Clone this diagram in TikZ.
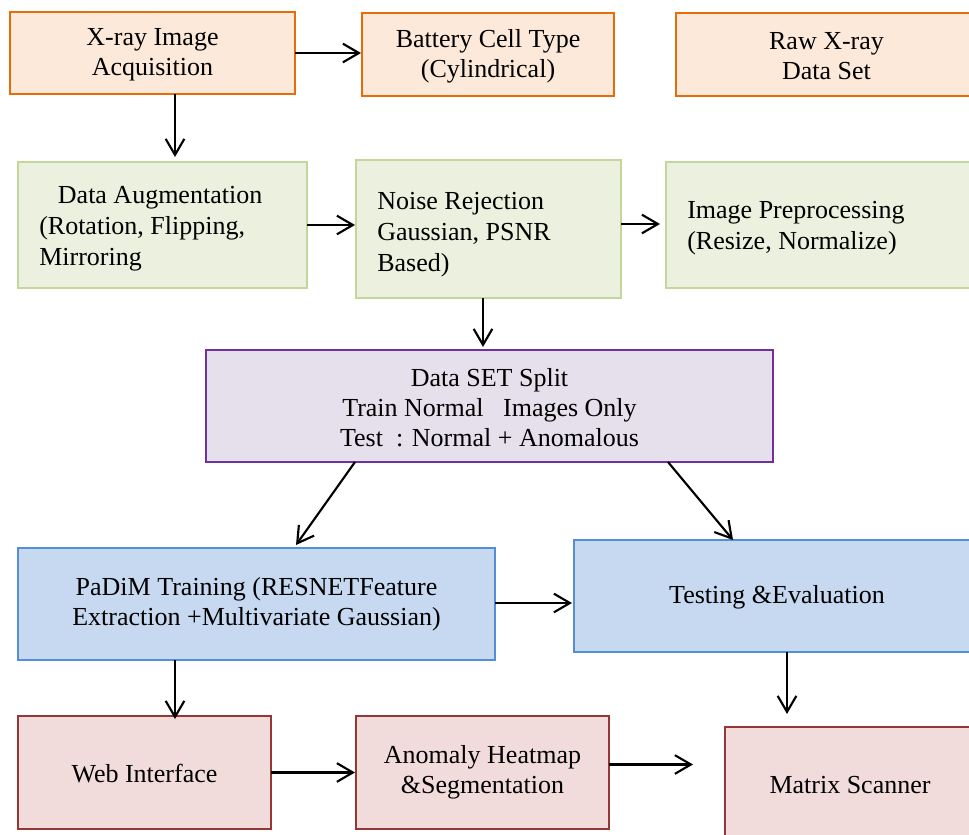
\documentclass[tikz,border=0pt]{standalone}
\usepackage{fontspec}
\setmainfont{Liberation Serif}
\usetikzlibrary{arrows.meta,calc,fit}
\definecolor{oline}{HTML}{E46C0A}
\definecolor{ofill}{HTML}{FDE9D9}
\definecolor{gline}{HTML}{C3D69B}
\definecolor{gfill}{HTML}{EBF1DE}
\definecolor{pline}{HTML}{7030A0}
\definecolor{pfill}{HTML}{E5E0EC}
\definecolor{bline}{HTML}{558ED5}
\definecolor{bfill}{HTML}{C6D9F1}
\definecolor{rline}{HTML}{953735}
\definecolor{rfill}{HTML}{F2DCDB}
\begin{document}
\begin{tikzpicture}[x=0.75pt,y=-0.75pt,
  box/.style={rectangle,inner sep=0pt,outer sep=0pt},
  obox/.style={box,draw=oline,fill=ofill,line width=2pt},
  gbox/.style={box,draw=gline,fill=gfill,line width=1.7pt},
  pbox/.style={box,draw=pline,fill=pfill,line width=2pt},
  bbox/.style={box,draw=bline,fill=bfill,line width=1.7pt},
  rbox/.style={box,draw=rline,fill=rfill,line width=2pt},
  ctxt/.style={inner sep=0pt,align=center,font=\fontsize{19.5}{22.5}\selectfont},
  txt/.style={inner sep=0pt,align=left,anchor=west,font=\fontsize{19.5}{23.25}\selectfont},
  arr/.style={line width=1.6pt,-{Straight Barb[length=12pt,width=14pt,line width=1.6pt]}}]
\useasboundingbox (0,0) rectangle (969,834);
\clip (0,0) rectangle (969,834);
% row 1
\node[obox, fit={(10,12) (295,94)}] (acq) {};
\node[ctxt] (acqt) at ($(acq.center)+(0,2)$) {X-ray Image\\Acquisition};
\node[obox, fit={(362,13) (614,96)}] (cell) {};
\node[ctxt] (cellt) at ($(cell.center)+(0,2)$) {Battery Cell Type\\(Cylindrical)};
\node[obox, fit={(676,13) (978,96)}] (raw) {};
\node[ctxt] (rawt) at ($(raw.center)+(-0.5,2)$) {Raw X-ray\\Data Set};
% row 2
\node[gbox, fit={(18,162) (307,288)}] (aug) {};
\node[txt] (augt) at (39,229) {\hspace*{14pt}Data Augmentation\\(Rotation, Flipping,\\Mirroring};
\node[gbox, fit={(356,160) (621,298)}] (noise) {};
\node[txt] (noiset) at (377,235) {Noise Rejection\\Gaussian, PSNR\\Based)};
\node[gbox, fit={(666,162) (978,288)}] (prep) {};
\node[txt] (prept) at (687,228) {Image Preprocessing\\(Resize, Normalize)};
% row 3
\node[pbox, fit={(206,350) (773,462)}] (split) {};
\node[ctxt] (splitt) at ($(split.center)+(0,2)$) {Data SET Split\\Train Normal\ \ \ Images Only\\Test\ \ : Normal + Anomalous};
% row 4
\node[bbox, fit={(18,548) (495,660)}] (padim) {};
\node[ctxt] (padimt) at ($(padim.center)+(0,0)$) {PaDiM Training (RESNETFeature\\Extraction +Multivariate Gaussian)};
\node[bbox, fit={(574,540) (980,652)}] (test) {};
\node[ctxt] (testt) at ($(test.center)+(0,1)$) {Testing \&Evaluation};
% row 5
\node[rbox, fit={(18,716) (271,829)}] (web) {};
\node[ctxt] (webt) at ($(web.center)+(0,1)$) {Web Interface};
\node[rbox, fit={(356,716) (609,829)}] (heat) {};
\node[ctxt] (heatt) at ($(heat.center)+(0,0)$) {Anomaly Heatmap\\\&Segmentation};
\node[rbox, fit={(725,727) (975,843)}] (scan) {};
\node[ctxt] (scant) at ($(scan.center)+(0,0)$) {Matrix Scanner};
% arrows
\draw[arr] (acq.east) -- ($(acq.east -| cell.west)+(-1,0)$);
\draw[arr] ($(acq.south west)+(165,0)$) -- ($(aug.north west)+(157,-5)$);
\draw[arr] (aug.east) -- ($(aug.east -| noise.west)+(-1,0)$);
\draw[arr] ($(aug.east -| noise.east)+(0,-1)$) -- ($(aug.east -| prep.west)+(-6,-1)$);
\draw[arr] ($(noise.south)+(-5.5,0)$) -- ($(split.north)+(-6.5,-3)$);
\draw[arr] ($(split.south west)+(149,0)$) -- ($(padim.north west)+(278,-3)$);
\draw[arr] ($(split.south west)+(462,0)$) -- ($(test.north west)+(159,0)$);
\draw[arr] ($(padim.east)+(0,-1)$) -- ($(padim.east -| test.west)+(-2,-1)$);
\draw[arr] ($(padim.south west)+(157,0)$) -- ($(web.north west)+(157,3)$);
\draw[arr] (web.east) -- ($(web.east -| heat.west)+(-1,0)$);
\draw[arr] ($(heat.east)+(0,-8)$) -- ($(heat.east -| scan.west)+(-32,-8)$);
\draw[arr] ($(test.south west)+(213,0)$) -- ($(scan.north west)+(62,-13)$);
\end{tikzpicture}
\end{document}
